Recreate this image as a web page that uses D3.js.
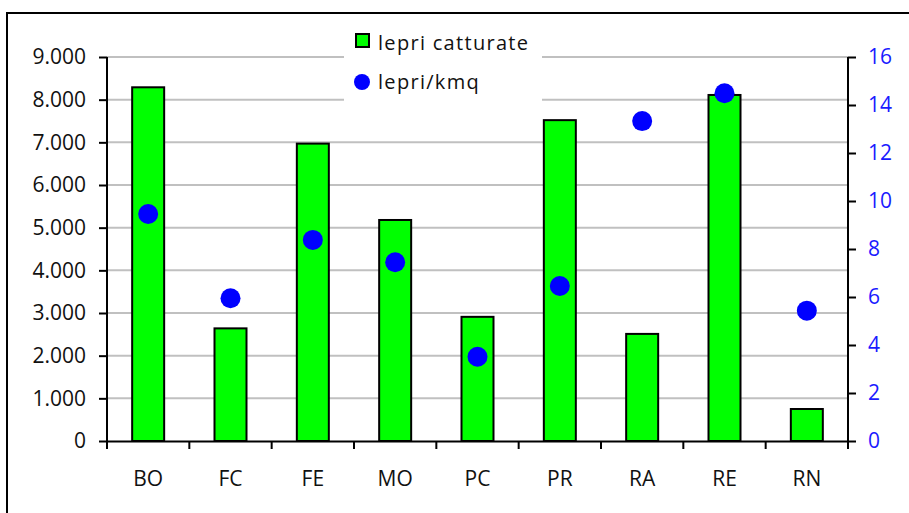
<!DOCTYPE html>
<html>
<head>
<meta charset="utf-8">
<script src="https://cdn.jsdelivr.net/npm/d3@7"></script>
<style>
  body { margin: 0; background: #fff; }
  text { font-family: "Open Sans", "Liberation Sans", sans-serif; }
</style>
</head>
<body>
<div id="chart"></div>
<script>
const province = ['BO', 'FC', 'FE', 'MO', 'PC', 'PR', 'RA', 'RE', 'RN'];
const lepriCatturate = [8290, 2640, 6970, 5180, 2910, 7520, 2510, 8110, 750];
const lepriKmq = [9.46, 5.95, 8.38, 7.45, 3.51, 6.46, 13.33, 14.49, 5.43];
const leftTicks = [0, 1000, 2000, 3000, 4000, 5000, 6000, 7000, 8000, 9000];
const rightTicks = [0, 2, 4, 6, 8, 10, 12, 14, 16];

const width = 909, height = 513;
const svg = d3.select('#chart').append('svg').attr('width', width).attr('height', height);

// cornice esterna
svg.append('rect')
    .attr('x', 7).attr('y', 13)
    .attr('width', 920).attr('height', 520)
    .attr('fill', 'none').attr('stroke', 'black').attr('stroke-width', 2);

const pLeft = 107, pRight = 848, pTop = 57, pBottom = 441;

const x = d3.scaleBand().domain(province).range([pLeft, pRight]);
const yL = d3.scaleLinear().domain([0, 9000]).range([pBottom, pTop]);
const yR = d3.scaleLinear().domain([0, 16]).range([pBottom, pTop]);

// griglia
svg.append('g').selectAll('line')
    .data(leftTicks.filter(d => d > 0))
    .enter().append('line')
    .attr('x1', pLeft).attr('x2', pRight)
    .attr('y1', d => yL(d)).attr('y2', d => yL(d))
    .attr('stroke', '#c0c0c0').attr('stroke-width', 2);

// legenda (sfondo bianco sopra la griglia)
svg.append('rect')
    .attr('x', 344).attr('y', 24)
    .attr('width', 198).attr('height', 82)
    .attr('fill', 'white');

// barre
svg.append('g').selectAll('rect')
    .data(lepriCatturate)
    .enter().append('rect')
    .attr('x', (d, i) => x(province[i]) + x.bandwidth() / 2 - 16)
    .attr('y', d => yL(d))
    .attr('width', 32)
    .attr('height', d => pBottom - yL(d))
    .attr('fill', '#00ff00')
    .attr('stroke', 'black')
    .attr('stroke-width', 2);

// assi
const fmt = d => d3.format(',')(d).replace(/,/g, '.');
const axL = svg.append('g').attr('transform', 'translate(' + pLeft + ',0)')
    .call(d3.axisLeft(yL).tickValues(leftTicks).tickFormat(fmt).tickSizeOuter(0).tickSize(8).tickPadding(13));
const axR = svg.append('g').attr('transform', 'translate(' + pRight + ',0)')
    .call(d3.axisRight(yR).tickValues(rightTicks).tickSizeOuter(0).tickSize(8).tickPadding(12));
const axB = svg.append('g').attr('transform', 'translate(0,' + pBottom + ')')
    .call(d3.axisBottom(x).tickSize(0).tickSizeOuter(0).tickPadding(30));

[axL, axR, axB].forEach(a => {
    a.attr('font-size', null).attr('font-family', null);
    a.select('.domain').attr('stroke', 'black').attr('stroke-width', 2);
    a.selectAll('.tick line').attr('stroke', 'black').attr('stroke-width', 2);
    a.selectAll('text').style('font-size', '21px').attr('fill', '#111');
});
axR.selectAll('text').attr('fill', '#1a1aff');
axL.select('.domain').attr('d', 'M0,' + pTop + 'V' + (pBottom + 8));
axR.select('.domain').attr('d', 'M0,' + pTop + 'V' + (pBottom + 8));

// tacche asse x ai confini delle categorie
svg.append('g').selectAll('line')
    .data(province.concat(['end']))
    .enter().append('line')
    .attr('x1', (d, i) => pLeft + i * x.step())
    .attr('x2', (d, i) => pLeft + i * x.step())
    .attr('y1', pBottom).attr('y2', pBottom + 8)
    .attr('stroke', 'black').attr('stroke-width', 2);

// punti
svg.append('g').selectAll('circle')
    .data(lepriKmq)
    .enter().append('circle')
    .attr('cx', (d, i) => x(province[i]) + x.bandwidth() / 2)
    .attr('cy', d => yR(d))
    .attr('r', 10)
    .attr('fill', '#0000ff');

// voci della legenda
svg.append('rect')
    .attr('x', 356).attr('y', 34).attr('width', 13).attr('height', 13)
    .attr('fill', '#00ff00').attr('stroke', 'black').attr('stroke-width', 2);
svg.append('text')
    .attr('x', 378).attr('y', 50)
    .style('font-size', '20px').style('letter-spacing', '1.3px')
    .attr('fill', '#111')
    .text('lepri catturate');
svg.append('circle')
    .attr('cx', 362).attr('cy', 82).attr('r', 8)
    .attr('fill', '#0000ff');
svg.append('text')
    .attr('x', 378).attr('y', 89)
    .style('font-size', '20px').style('letter-spacing', '1.3px')
    .attr('fill', '#111')
    .text('lepri/kmq');
</script>
</body>
</html>
